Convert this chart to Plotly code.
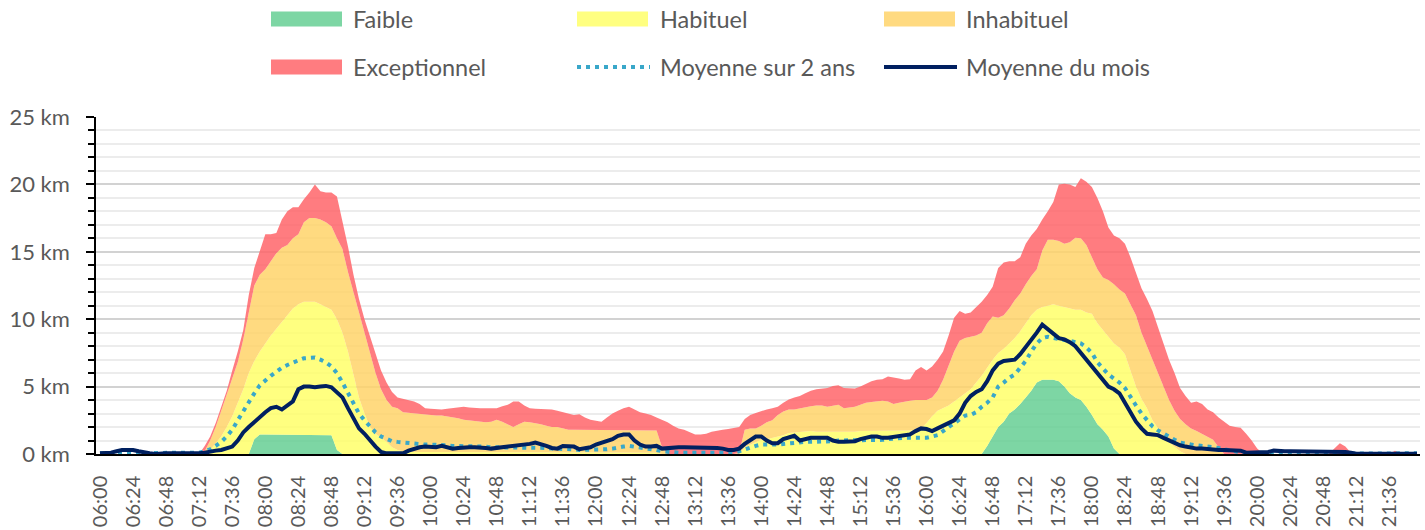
import plotly.graph_objects as go

# ---------------- data ----------------
# time categories, one every 4 minutes from 06:00 to 21:56
times = [f"{(360 + 4 * i) // 60:02d}:{(360 + 4 * i) % 60:02d}" for i in range(240)]
tick_labels = times[::6]

# cumulative upper bound of each band (km)
faible = [
    0, 0, 0, 0, 0, 0, 0, 0, 0, 0,
    0, 0, 0, 0, 0, 0, 0, 0, 0, 0,
    0, 0, 0, 0, 0, 0, 0, 0, 1.1, 1.45,
    1.45, 1.45, 1.45, 1.4, 1.4, 1.4, 1.4, 1.4, 1.4, 1.4,
    1.4, 1.4, 1.4, 0.3, 0, 0, 0, 0, 0, 0,
    0, 0, 0, 0, 0, 0, 0, 0, 0, 0,
    0, 0, 0, 0, 0, 0, 0, 0, 0, 0,
    0, 0, 0, 0, 0, 0, 0, 0, 0, 0,
    0, 0, 0, 0, 0, 0, 0, 0, 0, 0,
    0, 0, 0, 0, 0, 0, 0, 0, 0, 0,
    0, 0, 0, 0, 0, 0, 0, 0, 0, 0,
    0, 0, 0, 0, 0, 0, 0, 0, 0, 0,
    0, 0, 0, 0, 0, 0, 0, 0, 0, 0,
    0, 0, 0, 0, 0, 0, 0, 0, 0, 0,
    0, 0, 0, 0, 0, 0, 0, 0, 0, 0,
    0, 0, 0, 0, 0, 0, 0, 0, 0, 0,
    0, 0.6, 1.3, 2.0, 2.4, 3.0, 3.3, 3.7, 4.2, 4.7,
    5.3, 5.5, 5.5, 5.5, 5.4, 5.0, 4.5, 4.2, 4.0, 3.5,
    2.9, 2.2, 1.8, 1.3, 0.4, 0, 0, 0, 0, 0,
    0, 0, 0, 0, 0, 0, 0, 0, 0, 0,
    0, 0, 0, 0, 0, 0, 0, 0, 0, 0,
    0, 0, 0, 0, 0, 0, 0, 0, 0, 0,
    0, 0, 0, 0, 0, 0, 0, 0, 0, 0,
    0, 0, 0, 0, 0, 0, 0, 0, 0, 0,
]

habituel = [
    0, 0, 0, 0, 0, 0, 0, 0, 0, 0,
    0, 0, 0, 0, 0, 0, 0, 0, 0, 0,
    0.3, 0.8, 1.3, 2.0, 2.8, 3.8, 4.8, 6.0, 6.9, 7.6,
    8.2, 8.8, 9.3, 9.8, 10.3, 10.8, 11.1, 11.3, 11.3, 11.3,
    11.1, 10.9, 10.7, 10.0, 9.0, 7.6, 5.8, 4.2, 3.0, 2.0,
    1.5, 1.2, 0.9, 0.5, 0.3, 0.2, 0.15, 0.15, 0.15, 0.15,
    0.15, 0.15, 0.15, 0.15, 0.15, 0.15, 0.15, 0.15, 0.15, 0.15,
    0.15, 0.15, 0.15, 0.15, 0.15, 0.15, 0.15, 0.15, 0.15, 0.15,
    0.15, 0.15, 0.15, 0.15, 0.15, 0.15, 0.15, 0.15, 0.15, 0.15,
    0.15, 0.15, 0.15, 0.15, 0.15, 0.15, 0.15, 0.15, 0.15, 0.15,
    0.15, 0.1, 0, 0, 0, 0, 0, 0, 0, 0,
    0, 0, 0, 0, 0, 0, 0, 0.5, 0.7, 0.9,
    1.05, 1.1, 1.2, 1.25, 1.4, 1.55, 1.6, 1.65, 1.7, 1.7,
    1.65, 1.65, 1.6, 1.6, 1.65, 1.6, 1.6, 1.65, 1.7, 1.7,
    1.7, 1.7, 1.7, 1.7, 1.7, 1.7, 1.7, 1.75, 1.8, 1.9,
    2.3, 2.8, 3.2, 3.4, 3.6, 3.9, 4.2, 4.5, 4.8, 5.3,
    5.8, 6.4, 7.0, 7.5, 7.8, 8.2, 8.6, 9.1, 9.7, 10.3,
    10.7, 10.9, 11.0, 11.1, 11.0, 10.9, 10.8, 10.7, 10.7, 10.5,
    10.4, 9.7, 9.2, 8.7, 8.2, 7.9, 7.4, 6.2, 5.0, 4.1,
    3.4, 2.5, 1.9, 1.3, 0.85, 0.5, 0.2, 0, 0, 0,
    0, 0, 0, 0, 0, 0, 0, 0, 0, 0,
    0, 0, 0, 0, 0, 0, 0, 0, 0, 0,
    0, 0, 0, 0, 0, 0, 0, 0, 0, 0,
    0, 0, 0, 0, 0, 0, 0, 0, 0, 0,
]

inhabituel = [
    0, 0, 0, 0, 0, 0, 0, 0, 0, 0,
    0, 0, 0, 0, 0, 0, 0, 0, 0, 0.2,
    1.0, 2.0, 3.2, 4.3, 5.5, 6.8, 8.5, 10.5, 12.5, 13.3,
    13.7, 14.3, 14.9, 15.3, 15.5, 16.0, 16.3, 17.2, 17.5, 17.5,
    17.4, 17.2, 16.9, 16.0, 15.2, 13.5, 12.0, 10.5, 8.8, 7.3,
    6.0, 4.8, 4.0, 3.5, 3.4, 3.1, 3.05, 3.0, 2.95, 2.9,
    2.9, 2.85, 2.85, 2.8, 2.75, 2.65, 2.55, 2.5, 2.45, 2.4,
    2.35, 2.4, 2.55, 2.4, 2.2, 2.0, 2.2, 2.4, 2.35, 2.3,
    2.2, 2.1, 2.0, 2.0, 1.9, 1.8, 1.8, 1.8, 1.8, 1.8,
    1.8, 1.8, 1.8, 1.8, 1.8, 1.8, 1.8, 1.8, 1.8, 1.8,
    1.8, 1.75, 0.5, 0, 0, 0, 0, 0, 0, 0,
    0, 0, 0, 0, 0, 0, 0.1, 1.8, 1.9, 1.9,
    2.1, 2.35, 2.5, 2.9, 3.15, 3.3, 3.3, 3.4, 3.5, 3.55,
    3.6, 3.6, 3.5, 3.55, 3.65, 3.4, 3.45, 3.5, 3.65, 3.8,
    3.85, 3.9, 3.95, 3.9, 3.7, 3.8, 3.9, 3.95, 4.0, 4.0,
    4.0, 4.2, 4.7, 5.5, 6.5, 7.6, 8.4, 8.6, 8.7, 8.8,
    9.0, 9.7, 10.2, 10.1, 10.3, 10.8, 11.4, 11.9, 12.6, 13.2,
    13.7, 15.1, 15.9, 15.9, 15.8, 15.6, 15.7, 16.05, 16.0, 15.5,
    14.6, 13.7, 13.1, 12.9, 12.6, 12.2, 11.9, 11.1, 10.3, 9.0,
    8.0, 7.0, 6.0, 5.0, 4.0, 3.2, 2.6, 2.2, 1.9, 1.7,
    1.5, 1.3, 1.05, 0.5, 0, 0, 0, 0, 0, 0,
    0, 0, 0, 0, 0, 0, 0, 0, 0, 0,
    0, 0, 0, 0, 0, 0, 0, 0, 0, 0,
    0, 0, 0, 0, 0, 0, 0, 0, 0, 0,
]

exceptionnel = [
    0, 0, 0, 0, 0, 0, 0, 0, 0, 0,
    0, 0, 0, 0, 0, 0, 0, 0, 0, 0.6,
    1.3, 2.3, 3.5, 4.7, 6.2, 7.6, 9.2, 11.8, 13.8, 15.0,
    16.3, 16.3, 16.4, 17.4, 18.0, 18.3, 18.3, 18.9, 19.4, 20.0,
    19.5, 19.4, 19.4, 19.1, 17.3, 15.4, 13.3, 11.5, 10.0, 8.7,
    7.4, 6.2, 5.3, 4.6, 4.2, 4.1, 3.95, 3.9, 3.7, 3.4,
    3.35, 3.3, 3.3, 3.35, 3.4, 3.45, 3.5, 3.45, 3.4, 3.4,
    3.4, 3.4, 3.4, 3.55, 3.65, 3.9, 3.9, 3.6, 3.4, 3.35,
    3.35, 3.3, 3.3, 3.2, 3.1, 2.95, 2.9, 2.95, 2.7, 2.55,
    2.5, 2.4, 2.7, 3.0, 3.2, 3.4, 3.5, 3.3, 3.1, 3.0,
    2.9, 2.7, 2.55, 2.35, 2.1, 1.9, 1.8, 1.6, 1.45, 1.45,
    1.5, 1.65, 1.75, 1.8, 1.85, 1.9, 2.0, 2.6, 2.9, 3.05,
    3.2, 3.3, 3.4, 3.5, 3.8, 4.05, 4.2, 4.3, 4.5, 4.7,
    4.8, 4.85, 4.9, 5.05, 5.1, 4.9, 4.85, 4.85, 5.0, 5.2,
    5.4, 5.5, 5.55, 5.75, 5.7, 5.6, 5.5, 5.55, 6.2, 6.45,
    6.2, 6.5, 7.0, 7.6, 8.8, 10.1, 10.6, 10.4, 10.5, 10.9,
    11.3, 11.8, 12.4, 13.8, 14.2, 14.3, 14.3, 14.6, 15.6, 16.2,
    16.7, 17.4, 18.0, 18.7, 20.0, 20.05, 20.0, 19.8, 20.45, 20.2,
    19.8, 19.0, 18.0, 16.8, 16.2, 16.0, 15.6, 14.6, 13.4, 12.3,
    11.5, 10.6, 9.4, 8.2, 7.0, 6.0, 4.9, 4.3, 3.8, 3.9,
    3.7, 3.3, 3.1, 2.7, 2.4, 2.1, 2.0, 1.95, 1.5, 1.0,
    0.4, 0.05, 0, 0, 0, 0, 0, 0, 0, 0,
    0, 0, 0, 0, 0.4, 0.8, 0.55, 0.1, 0, 0,
    0, 0, 0, 0, 0, 0.25, 0.05, 0, 0, 0,
]

moyenne_2_ans = [
    0.05, 0.05, 0.05, 0.05, 0.05, 0.05, 0.05, 0.05, 0.03, 0.03,
    0.03, 0.03, 0.03, 0.03, 0.03, 0.03, 0.05, 0.08, 0.1, 0.2,
    0.35, 0.6, 0.9, 1.3, 1.8, 2.5, 3.2, 3.8, 4.5, 5.1,
    5.5, 5.8, 6.1, 6.4, 6.6, 6.8, 6.95, 7.1, 7.15, 7.15,
    7.0, 6.8, 6.5, 6.0, 5.3, 4.5, 3.7, 3.0, 2.5, 2.0,
    1.6, 1.3, 1.1, 0.95, 0.9, 0.85, 0.8, 0.75, 0.7, 0.7,
    0.7, 0.7, 0.65, 0.65, 0.6, 0.6, 0.6, 0.6, 0.6, 0.55,
    0.55, 0.5, 0.5, 0.5, 0.5, 0.5, 0.5, 0.5, 0.5, 0.5,
    0.45, 0.45, 0.4, 0.4, 0.4, 0.35, 0.35, 0.3, 0.3, 0.3,
    0.3, 0.3, 0.35, 0.4, 0.5, 0.55, 0.6, 0.55, 0.5, 0.45,
    0.4, 0.3, 0.2, 0.15, 0.1, 0.1, 0.1, 0.1, 0.1, 0.1,
    0.1, 0.1, 0.1, 0.1, 0.1, 0.1, 0.2, 0.35, 0.45, 0.6,
    0.7, 0.7, 0.65, 0.7, 0.75, 0.8, 0.85, 0.9, 0.9, 0.9,
    0.9, 0.9, 0.95, 0.95, 1.0, 1.0, 1.0, 1.0, 1.0, 1.0,
    1.0, 1.05, 1.05, 1.1, 1.15, 1.2, 1.2, 1.2, 1.2, 1.2,
    1.2, 1.3, 1.4, 1.7, 2.0, 2.3, 2.6, 2.85, 2.9, 3.1,
    3.5, 3.8, 4.2, 5.0, 5.3, 5.65, 5.9, 6.4, 6.9, 7.6,
    8.2, 8.6, 8.7, 8.6, 8.5, 8.45, 8.4, 8.3, 8.2, 7.9,
    7.5, 6.8, 6.3, 5.9, 5.6, 5.3, 4.9, 4.2, 3.6, 3.0,
    2.5, 2.05, 1.75, 1.5, 1.3, 1.05, 0.85, 0.75, 0.7, 0.65,
    0.6, 0.6, 0.5, 0.45, 0.35, 0.3, 0.2, 0.1, 0.05, 0.03,
    0.02, 0.02, 0.02, 0.02, 0.02, 0.02, 0.02, 0.02, 0.02, 0.02,
    0.02, 0.02, 0.02, 0.02, 0.02, 0.02, 0.02, 0.03, 0.03, 0.03,
    0.05, 0.05, 0.05, 0.05, 0.05, 0.05, 0.05, 0.05, 0.05, 0.05,
]

moyenne_mois = [
    0.05, 0.05, 0.1, 0.2, 0.3, 0.3, 0.3, 0.2, 0.1, 0.05,
    0.0, 0.05, 0.05, 0.05, 0.05, 0.05, 0.0, 0.0, 0.05, 0.1,
    0.2, 0.25, 0.3, 0.4, 0.55, 1.0, 1.6, 2.0, 2.4, 2.8,
    3.1, 3.4, 3.5, 3.3, 3.6, 3.9, 4.8, 5.0, 5.0, 4.95,
    5.0, 5.05, 4.95, 4.6, 4.2, 3.4, 2.6, 1.9, 1.5, 1.0,
    0.55, 0.15, 0.05, 0.05, 0.05, 0.05, 0.25, 0.4, 0.5, 0.55,
    0.55, 0.5, 0.6, 0.5, 0.4, 0.45, 0.5, 0.5, 0.5, 0.5,
    0.45, 0.4, 0.45, 0.45, 0.5, 0.55, 0.6, 0.65, 0.75, 0.85,
    0.75, 0.6, 0.45, 0.4, 0.6, 0.6, 0.55, 0.35, 0.4, 0.5,
    0.7, 0.85, 0.95, 1.1, 1.35, 1.45, 1.45, 1.0, 0.7, 0.55,
    0.55, 0.6, 0.4, 0.45, 0.5, 0.5, 0.5, 0.5, 0.5, 0.5,
    0.45, 0.45, 0.45, 0.4, 0.3, 0.3, 0.4, 0.75, 1.05, 1.3,
    1.3, 1.0, 0.8, 0.8, 1.1, 1.25, 1.35, 1.0, 1.1, 1.2,
    1.2, 1.2, 1.2, 1.0, 0.9, 0.9, 0.9, 0.95, 1.1, 1.2,
    1.3, 1.3, 1.2, 1.2, 1.25, 1.3, 1.35, 1.45, 1.7, 1.9,
    1.85, 1.7, 1.9, 2.1, 2.3, 2.5, 3.0, 3.8, 4.3, 4.6,
    4.8, 5.4, 6.2, 6.7, 6.9, 6.95, 7.0, 7.4, 7.9, 8.4,
    9.0, 9.6, 9.25, 8.9, 8.6, 8.5, 8.3, 8.0, 7.5, 7.0,
    6.4, 5.9, 5.4, 5.0, 4.8, 4.5, 3.8, 3.1, 2.4, 1.9,
    1.5, 1.45, 1.4, 1.2, 1.0, 0.8, 0.65, 0.55, 0.45, 0.4,
    0.4, 0.35, 0.35, 0.3, 0.3, 0.3, 0.3, 0.25, 0.1, 0.1,
    0.1, 0.1, 0.15, 0.25, 0.2, 0.2, 0.2, 0.2, 0.2, 0.15,
    0.15, 0.15, 0.15, 0.15, 0.15, 0.15, 0.15, 0.1, 0.02, 0.02,
    0.02, 0.02, 0.02, 0.02, 0.02, 0.02, 0.02, 0.02, 0.02, 0.02,
]

for s in (faible, habituel, inhabituel, exceptionnel, moyenne_2_ans, moyenne_mois):
    assert len(s) == len(times)

# ---------------- style ----------------
W, H = 1425, 530
M_L, M_R, M_T, M_B = 96, 5, 117, 76
PLOT_W = W - M_L - M_R
PLOT_H = H - M_T - M_B

FONT = "Lato"
TXT = "#595959"
C_FAIBLE = "rgba(102,207,148,0.85)"
C_HABITUEL = "rgba(255,255,106,0.85)"
C_INHABITUEL = "rgba(255,211,106,0.85)"
C_EXCEPTIONNEL = "rgba(255,101,106,0.85)"
C_MOY2 = "#39a7c9"
C_MOIS = "#002060"

fig = go.Figure()

bands = [
    ("Faible", faible, C_FAIBLE, "tozeroy"),
    ("Habituel", habituel, C_HABITUEL, "tonexty"),
    ("Inhabituel", inhabituel, C_INHABITUEL, "tonexty"),
    ("Exceptionnel", exceptionnel, C_EXCEPTIONNEL, "tonexty"),
]
for name, ys, col, fill in bands:
    fig.add_trace(go.Scatter(
        x=times, y=ys, name=name, mode="lines",
        line=dict(width=0, color=col), fill=fill, fillcolor=col,
        showlegend=False, hoverinfo="skip",
    ))

fig.add_trace(go.Scatter(
    x=times, y=moyenne_2_ans, name="Moyenne sur 2 ans", mode="lines",
    line=dict(color=C_MOY2, width=4, dash="4px,5px"), showlegend=False,
))
fig.add_trace(go.Scatter(
    x=times, y=moyenne_mois, name="Moyenne du mois", mode="lines",
    line=dict(color=C_MOIS, width=4), showlegend=False,
))

# ---------------- manual legend (3 columns x 2 rows) ----------------
def px_x(px):
    return (px - M_L) / PLOT_W


def px_y(py):
    return (H - M_B - py) / PLOT_H


col_swatch = [271, 577, 884]
col_text = [351, 658, 964]
row_y = [19, 67]
sw_w, sw_h = 71, 15

legend_items = [
    ("Faible", "box", C_FAIBLE, 0, 0),
    ("Habituel", "box", C_HABITUEL, 1, 0),
    ("Inhabituel", "box", C_INHABITUEL, 2, 0),
    ("Exceptionnel", "box", C_EXCEPTIONNEL, 0, 1),
    ("Moyenne sur 2 ans", "dot", C_MOY2, 1, 1),
    ("Moyenne du mois", "line", C_MOIS, 2, 1),
]
shapes = []
annotations = []
for label, kind, col, c, r in legend_items:
    x0 = col_swatch[c]
    yc = row_y[r]
    if kind == "box":
        shapes.append(dict(type="rect", xref="paper", yref="paper",
                           x0=px_x(x0), x1=px_x(x0 + sw_w),
                           y0=px_y(yc + sw_h / 2), y1=px_y(yc - sw_h / 2),
                           fillcolor=col, line=dict(width=0), layer="above"))
    else:
        shapes.append(dict(type="line", xref="paper", yref="paper",
                           x0=px_x(x0), x1=px_x(x0 + 73),
                           y0=px_y(yc), y1=px_y(yc),
                           line=dict(color=col, width=4,
                                     dash="4px,5px" if kind == "dot" else "solid")))
    annotations.append(dict(text=label, xref="paper", yref="paper",
                            x=px_x(col_text[c]), y=px_y(yc),
                            xanchor="left", yanchor="middle", showarrow=False,
                            font=dict(family=FONT, size=23.5, color=TXT)))

fig.update_layout(
    width=W, height=H,
    margin=dict(l=M_L, r=M_R, t=M_T, b=M_B, autoexpand=False),
    paper_bgcolor="white", plot_bgcolor="white",
    font=dict(family=FONT, color=TXT),
    showlegend=False,
    shapes=shapes, annotations=annotations,
    xaxis=dict(
        type="category", range=[-0.725, 239.545],
        tickmode="array", tickvals=tick_labels, ticktext=tick_labels,
        tickangle=-90, ticks="", showgrid=False, zeroline=False,
        showline=True, linecolor="black", linewidth=1.5,
        tickfont=dict(family=FONT, size=20, color=TXT),
        ticklabelstandoff=12, layer="above traces",
    ),
    yaxis=dict(
        range=[0, 25], tick0=0, dtick=5, ticksuffix=" km",
        showline=True, linecolor="black", linewidth=1.5,
        ticks="outside", ticklen=8, tickwidth=1.5, tickcolor="black",
        showgrid=True, gridcolor="#d2d2d2", gridwidth=1.5, zeroline=False,
        minor=dict(dtick=1, ticks="outside", ticklen=6, tickwidth=1.5,
                   tickcolor="black", showgrid=True, gridcolor="#ececec",
                   gridwidth=1.5),
        tickfont=dict(family=FONT, size=22, color=TXT),
        ticklabelstandoff=12, layer="above traces",
    ),
)

fig.write_html(
    "out.html",
    config={"displayModeBar": False},
    post_script="document.body.style.margin='0';document.body.style.overflow='hidden';",
)
